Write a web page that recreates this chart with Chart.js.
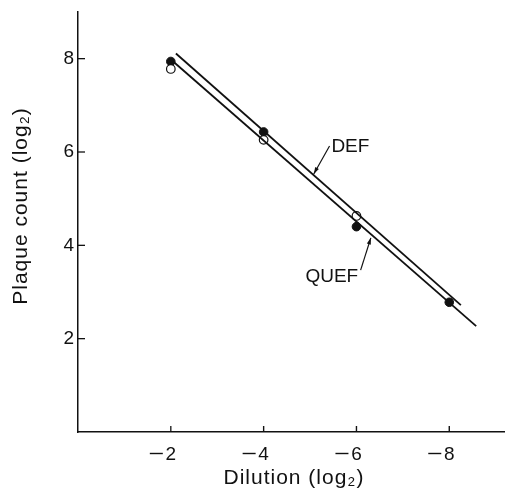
<!DOCTYPE html>
<html>
<head>
<meta charset="utf-8">
<script src="https://cdn.jsdelivr.net/npm/chart.js@4"></script>
<style>
  html, body { margin: 0; padding: 0; background: #fff; }
  #wrap { width: 510px; height: 498px; position: relative; }
</style>
</head>
<body>
<div id="wrap"><canvas id="myChart"></canvas></div>
<script>
// data
var xTicks = [-2, -4, -6, -8];
var yTicks = [2, 4, 6, 8];

var openX = [-2, -4, -6];
var openY = [7.78, 6.26, 4.63];

var filledX = [-2, -4, -6, -8];
var filledY = [7.94, 6.43, 4.40, 2.78];

// fitted lines (end points)
var defX = [-2.11, -8.25];
var defY = [8.11, 2.72];
var quefX = [-2.05, -8.58];
var quefY = [7.94, 2.27];

var xTitle = "Dilution (log\u2082)";
var yTitle = "Plaque count (log\u2082)";

function pts(xs, ys) {
  return xs.map(function (x, i) { return {x: x, y: ys[i]}; });
}

var FONT = "'Liberation Sans', Arial, sans-serif";

// inward ticks, x tick labels, axis titles, labels with arrows
var extras = {
  id: 'extras',
  afterDraw: function (chart) {
    var ctx = chart.ctx;
    var xs = chart.scales.x, ys = chart.scales.y;
    var a = chart.chartArea;
    ctx.save();
    ctx.strokeStyle = '#111';
    ctx.fillStyle = '#111';
    ctx.lineWidth = 1.3;
    ctx.font = '19px ' + FONT;
    ctx.textBaseline = 'top';
    xTicks.forEach(function (v) {
      var px = xs.getPixelForValue(v);
      ctx.beginPath(); ctx.moveTo(px, a.bottom); ctx.lineTo(px, a.bottom - 6); ctx.stroke();
      // digit centred on the tick, minus sign hanging to the left
      ctx.textAlign = 'center';
      ctx.fillText(String(Math.abs(v)), px, a.bottom + 13);
      ctx.beginPath();
      ctx.moveTo(px - 21, a.bottom + 21.5); ctx.lineTo(px - 8, a.bottom + 21.5);
      ctx.lineWidth = 1.4; ctx.stroke();
    });
    ctx.lineWidth = 1.3;
    yTicks.forEach(function (v) {
      var py = ys.getPixelForValue(v);
      ctx.beginPath(); ctx.moveTo(a.left, py); ctx.lineTo(a.left + 7, py); ctx.stroke();
    });

    // axis titles
    ctx.font = '21px ' + FONT;
    ctx.letterSpacing = '1px';
    ctx.textAlign = 'center';
    ctx.textBaseline = 'middle';
    ctx.fillText(xTitle, 294, 478);
    ctx.save();
    ctx.translate(21, 206);
    ctx.rotate(-Math.PI / 2);
    ctx.fillText(yTitle, 0, 0);
    ctx.restore();
    ctx.letterSpacing = '0px';

    function P(x, y) { return [xs.getPixelForValue(x), ys.getPixelForValue(y)]; }
    function arrow(from, to) {
      var f = P(from[0], from[1]), t = P(to[0], to[1]);
      ctx.lineWidth = 1.2;
      ctx.beginPath(); ctx.moveTo(f[0], f[1]); ctx.lineTo(t[0], t[1]); ctx.stroke();
      var ang = Math.atan2(t[1] - f[1], t[0] - f[0]);
      ctx.beginPath();
      ctx.moveTo(t[0], t[1]);
      ctx.lineTo(t[0] - 7 * Math.cos(ang - 0.3), t[1] - 7 * Math.sin(ang - 0.3));
      ctx.lineTo(t[0] - 7 * Math.cos(ang + 0.3), t[1] - 7 * Math.sin(ang + 0.3));
      ctx.closePath();
      ctx.fill();
    }
    ctx.font = '19px ' + FONT;
    ctx.textAlign = 'left';
    ctx.textBaseline = 'middle';
    var d = P(-5.46, 6.11);
    ctx.fillText('DEF', d[0], d[1]);
    arrow([-5.42, 6.13], [-5.08, 5.53]);
    var q = P(-4.90, 3.32);
    ctx.fillText('QUEF', q[0], q[1]);
    arrow([-6.09, 3.47], [-6.31, 4.16]);
    ctx.restore();
  }
};

new Chart("myChart", {
  type: "scatter",
  data: {
    datasets: [{
      label: "DEF",
      data: pts(defX, defY),
      showLine: true,
      borderColor: "#111",
      borderWidth: 1.8,
      pointRadius: 0
    }, {
      label: "QUEF",
      data: pts(quefX, quefY),
      showLine: true,
      borderColor: "#111",
      borderWidth: 1.8,
      pointRadius: 0
    }, {
      label: "open",
      data: pts(openX, openY),
      pointRadius: 4.3,
      pointBackgroundColor: "#fff",
      pointBorderColor: "#111",
      pointBorderWidth: 1.2
    }, {
      label: "filled",
      data: pts(filledX, filledY),
      pointRadius: 4.3,
      pointBackgroundColor: "#111",
      pointBorderColor: "#111",
      pointBorderWidth: 1
    }]
  },
  options: {
    responsive: true,
    maintainAspectRatio: false,
    animation: false,
    layout: {padding: {top: 12, right: 0, left: 0, bottom: 0}},
    plugins: {legend: {display: false}, tooltip: {enabled: false}},
    scales: {
      x: {
        type: "linear",
        min: -9.19,
        max: 0,
        reverse: true,
        grid: {display: false},
        border: {display: true, color: "#111", width: 1.5},
        afterBuildTicks: function (s) { s.ticks = xTicks.map(function (v) { return {value: v}; }); },
        afterFit: function (s) {
          s.height = 66;
          s.paddingLeft = 0;
          s.paddingRight = 0;
        },
        ticks: {display: false}
      },
      y: {
        min: 0,
        max: 9,
        grid: {display: false, tickLength: 0},
        border: {display: true, color: "#111", width: 1.5},
        afterBuildTicks: function (s) { s.ticks = yTicks.map(function (v) { return {value: v}; }); },
        afterFit: function (s) {
          s.width = 78;
          s.paddingTop = 0;
          s.paddingBottom = 0;
        },
        ticks: {
          color: "#111",
          padding: 4,
          font: {family: FONT, size: 19}
        }
      }
    }
  },
  plugins: [extras]
});
</script>
</body>
</html>
